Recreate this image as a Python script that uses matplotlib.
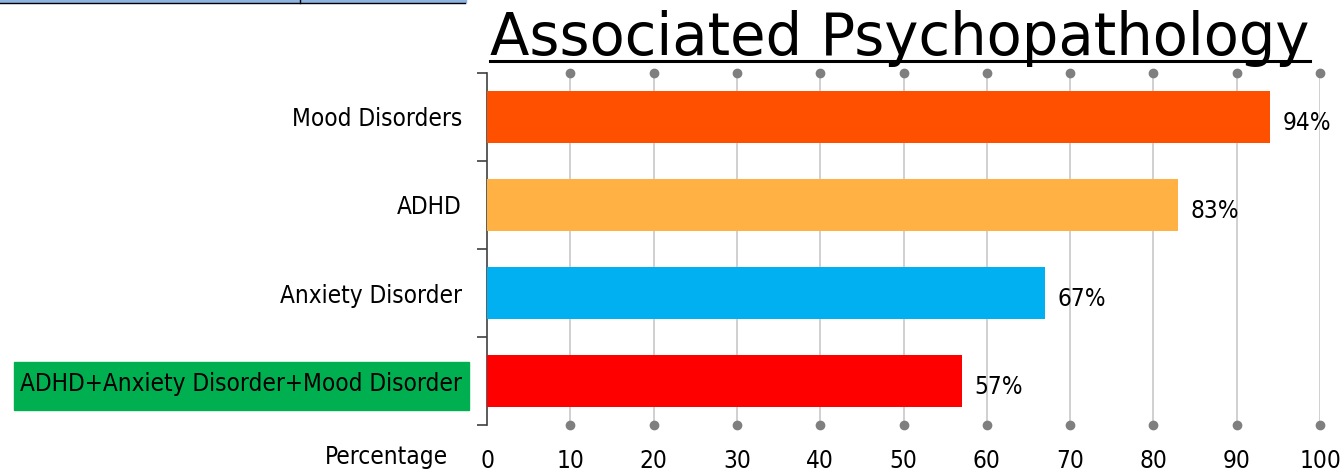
import matplotlib
matplotlib.use("Agg")
import matplotlib.pyplot as plt
from matplotlib.lines import Line2D
from matplotlib.patches import Rectangle

categories = ["Mood Disorders", "ADHD", "Anxiety Disorder", "ADHD+Anxiety Disorder+Mood Disorder"]
values = [94, 83, 67, 57]
colors = ["#FF5000", "#FFB243", "#00B0F0", "#FF0000"]
xticks = [0, 10, 20, 30, 40, 50, 60, 70, 80, 90, 100]

W, H = 1343, 474
fig = plt.figure(figsize=(W / 100, H / 100), dpi=100)
lab_font = ["DejaVu Sans"]
lab_kw = dict(family=lab_font, stretch="condensed", fontsize=17.5)

x0, x1, yt, yb = 487, 1320, 73, 425
ax = fig.add_axes([x0 / W, 1 - yb / H, (x1 - x0) / W, (yb - yt) / H])
ax.patch.set_alpha(0)
ypos = list(range(len(categories)))
ax.barh(ypos, values, height=0.58, color=colors, zorder=3)
ax.set_xlim(0, 100)
ax.set_ylim(len(categories) - 0.5, -0.5)

for s in ["top", "right", "bottom"]:
    ax.spines[s].set_visible(False)
ax.spines["left"].set_color("#404040")
ax.spines["left"].set_linewidth(1.2)

for v in xticks[1:]:
    ax.axvline(v, color="#C8C8C8", lw=1.2, zorder=1)
ax.plot(xticks[1:], [-0.5] * 10, "o", color="#7F7F7F", ms=6, clip_on=False, zorder=4)
ax.plot(xticks[1:], [len(categories) - 0.5] * 10, "o", color="#7F7F7F", ms=6, clip_on=False, zorder=4)

ax.set_xticks(xticks)
ax.set_xticklabels([str(v) for v in xticks], **lab_kw)
ax.tick_params(axis="x", length=0, pad=17)

ax.set_yticks(ypos)
ax.set_yticklabels(categories, **lab_kw)
ax.set_yticks([i - 0.5 for i in range(len(categories) + 1)], minor=True)
ax.tick_params(axis="y", which="major", length=0, pad=18)
ax.tick_params(axis="y", which="minor", length=7, color="#404040", width=1.2)

fig.add_artist(Rectangle((14 / W, 1 - 410 / H), (469 - 14) / W, 48 / H,
                         transform=fig.transFigure, color="#00B050", zorder=-5))

for i, v in enumerate(values):
    ax.annotate(f"{v}%", (v, i), xytext=(9, -4), textcoords="offset points",
                va="center", ha="left", **lab_kw)

fig.text(448 / W, 1 - 457 / H, "Percentage", ha="right", va="center", **lab_kw)

fig.text(490 / W, 1 - 55 / H, "Associated Psychopathology", ha="left", va="baseline",
         fontsize=41.5, family=["DejaVu Sans"])
fig.add_artist(Line2D([490 / W, 1310 / W], [1 - 61 / H] * 2, color="black", lw=2.2))

fig.add_artist(Line2D([0, 465 / W], [1 - 1 / H] * 2, color="#8EB4E3", lw=2.5))
fig.add_artist(Line2D([0, 465 / W], [1 - 3 / H] * 2, color="black", lw=1))
fig.add_artist(Line2D([300 / W, 300 / W], [1 - 3 / H, 1], color="black", lw=1))

fig.savefig("out.png", dpi=100)
